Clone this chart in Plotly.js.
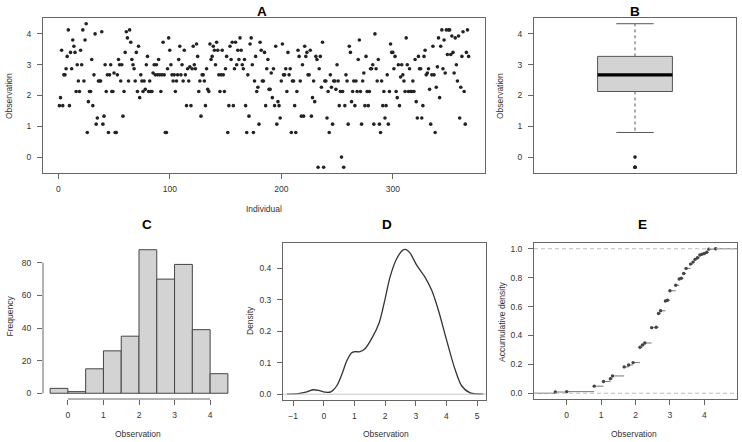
<!DOCTYPE html>
<html><head><meta charset="utf-8">
<script src="https://cdn.plot.ly/plotly-3.0.1.min.js"></script>
<style>html,body{margin:0;padding:0;background:#fff}#chart{width:742px;height:442px}</style>
</head><body><div id="chart"></div>
<script>
// Observation of each individual (panel A order)
const observations = [
1.67,1.93,3.47,1.67,2.67,2.67,2.87,3.27,4.13,1.67,
3.4,2.87,3.8,3.6,3.4,2.13,3.0,2.47,2.13,3.47,
3.0,4.13,2.47,3.8,4.33,0.8,1.8,2.13,2.13,3.17,
1.67,2.67,4.0,1.07,1.27,2.47,2.47,2.47,4.07,1.07,
1.33,3.0,2.13,2.67,0.8,2.67,3.0,2.13,2.13,2.73,
0.8,0.8,2.67,3.17,3.0,
2.47,3.0,1.33,2.13,3.4,4.07,3.87,2.47,4.13,3.73,
3.17,3.0,2.87,2.47,3.4,2.13,3.6,1.93,2.67,2.47,
2.13,2.47,2.2,3.0,3.27,2.13,2.47,2.13,2.13,2.73,
3.0,2.67,3.0,2.67,3.17,2.67,2.13,2.67,3.73,2.67,
0.8,0.8,2.87,3.87,3.47,3.0,2.67,2.47,2.67,2.13,
2.47,2.67,3.17,3.6,2.67,3.0,2.47,3.47,2.67,1.67,
2.87,2.47,2.93,1.67,2.87,3.6,
3.0,2.87,3.67,3.27,2.13,2.47,1.33,2.67,2.67,2.47,
1.67,2.87,2.2,2.13,3.67,3.17,3.27,3.6,3.47,3.0,
3.73,3.47,2.67,2.13,2.67,3.47,2.67,2.13,2.87,3.27,
0.8,1.67,3.6,3.17,3.73,1.67,2.87,3.73,3.0,3.47,
3.17,3.87,3.47,3.0,2.87,3.17,1.67,0.8,2.67,1.33,
3.67,3.87,3.0,0.8,2.47,3.27,2.13,2.27,1.07,3.73,
3.47,2.47,2.47,3.4,1.67,2.87,
3.17,2.2,2.2,2.73,1.93,2.87,1.67,3.6,1.07,1.8,
1.67,1.27,2.47,3.67,2.67,2.67,2.87,2.13,3.4,2.67,
2.87,0.8,2.47,2.47,1.67,0.8,2.13,3.47,3.27,2.47,
1.33,3.0,1.33,3.6,3.27,3.4,2.67,2.67,3.47,1.33,
1.93,2.47,1.8,3.27,3.17,-0.33,2.87,3.27,2.27,3.73,
-0.33,2.47,2.47,1.27,2.13,0.8,2.67,2.27,1.07,2.47,
2.47,2.2,3.0,2.47,
1.67,2.13,0.0,2.13,-0.33,1.67,2.67,2.47,1.07,3.6,
3.4,1.8,2.13,2.47,1.67,2.47,2.13,3.17,3.8,2.13,
1.07,2.47,2.73,1.67,3.27,2.13,1.67,2.13,2.87,2.87,
3.0,1.07,4.0,2.87,2.47,3.17,1.07,0.8,2.47,1.67,
2.13,1.27,1.67,2.67,1.07,2.13,3.67,3.4,3.4,2.87,
3.27,2.13,1.93,3.0,1.67,2.6,3.0,2.67,2.47,2.13,
3.87,3.0,2.13,2.87,2.13,
2.13,2.47,2.13,3.17,1.8,1.27,3.27,2.87,2.87,1.27,
1.67,3.27,3.47,2.67,2.73,2.87,2.2,1.07,2.67,3.6,
2.67,0.8,2.27,2.93,3.87,1.93,3.6,4.13,2.87,3.8,
2.73,4.13,3.33,4.13,4.13,3.33,3.93,3.4,2.73,3.87,
3.0,2.47,3.93,1.27,2.27,3.27,4.07,2.13,1.07,3.4,
4.13,3.27
];

// Histogram (panel C)
const histBreaks = [-0.5,0,0.5,1,1.5,2,2.5,3,3.5,4,4.5];
const histCounts = [3,1,15,26,35,88,70,79,39,12];

// Density curve (panel D)
const densityX = [-1.2,-0.83,-0.55,-0.34,-0.17,0.04,0.23,0.42,0.59,0.75,0.91,1.02,1.18,1.35,1.57,1.81,2.0,2.16,2.38,2.58,2.67,2.81,3.03,3.3,3.52,3.74,4.01,4.28,4.5,4.77,5.0,5.2];
const densityY = [0,0.002,0.0075,0.014,0.012,0.0064,0.0075,0.026,0.063,0.106,0.132,0.135,0.135,0.145,0.178,0.228,0.303,0.372,0.431,0.458,0.46,0.449,0.41,0.372,0.33,0.266,0.17,0.079,0.026,0.004,0.0005,0];

const titles = ['A','B','C','D','E'];

// ---- derived ----
const n = observations.length;
const individuals = observations.map((_, k) => k + 1);
const sorted = observations.slice().sort((a, b) => a - b);

function fivenum(s) {
  const m = s.length;
  const n4 = Math.floor((m + 3) / 2) / 2;
  const d = [1, n4, (m + 1) / 2, m + 1 - n4, m];
  return d.map(v => 0.5 * (s[Math.floor(v) - 1] + s[Math.ceil(v) - 1]));
}
const h = fivenum(sorted);
const iqr = h[3] - h[1];
const lo = h[1] - 1.5 * iqr, hi = h[3] + 1.5 * iqr;
const inside = sorted.filter(v => v >= lo && v <= hi);
const wLow = inside[0], wHigh = inside[inside.length - 1];
const outliers = sorted.filter(v => v < lo || v > hi);

const histMid = histCounts.map((_, k) => (histBreaks[k] + histBreaks[k + 1]) / 2);
const histWidth = histCounts.map((_, k) => histBreaks[k + 1] - histBreaks[k]);

const uniq = [...new Set(sorted)];
const ecdfY = uniq.map(u => sorted.filter(v => v <= u).length / n);
const eRange = [-0.95, 4.95];
const segX = [eRange[0], uniq[0], null], segY = [0, 0, null];
uniq.forEach((u, k) => {
  segX.push(u, k < uniq.length - 1 ? uniq[k + 1] : eRange[1], null);
  segY.push(ecdfY[k], ecdfY[k], null);
});

const frame = '#666';
const tickFont = {family: 'Liberation Sans, Arial, sans-serif', size: 8.5, color: '#333'};
function ax(extra) {
  return Object.assign({
    showgrid: false, zeroline: false, showline: true, mirror: true,
    linecolor: frame, linewidth: 1, ticks: 'outside', ticklen: 5, tickcolor: frame,
    tickfont: tickFont, fixedrange: true
  }, extra);
}

const traces = [
  {type: 'scatter', mode: 'markers', x: individuals, y: observations, xaxis: 'x', yaxis: 'y',
   marker: {size: 3.6, color: '#222'}, hoverinfo: 'skip'},
  // boxplot B
  {type: 'scatter', mode: 'lines', x: [0.8, 1.2, 1.2, 0.8, 0.8], y: [h[1], h[1], h[3], h[3], h[1]],
   fill: 'toself', fillcolor: '#d3d3d3', line: {color: '#555', width: 1}, xaxis: 'x2', yaxis: 'y2'},
  {type: 'scatter', mode: 'lines', x: [0.8, 1.2], y: [h[2], h[2]], line: {color: '#000', width: 3.2},
   xaxis: 'x2', yaxis: 'y2'},
  {type: 'scatter', mode: 'lines', x: [1, 1, null, 1, 1], y: [h[3], wHigh, null, h[1], wLow],
   line: {color: '#555', width: 1, dash: '3px,3px'}, xaxis: 'x2', yaxis: 'y2'},
  {type: 'scatter', mode: 'lines', x: [0.9, 1.1, null, 0.9, 1.1], y: [wHigh, wHigh, null, wLow, wLow],
   line: {color: '#555', width: 1}, xaxis: 'x2', yaxis: 'y2'},
  {type: 'scatter', mode: 'markers', x: outliers.map(() => 1), y: outliers,
   marker: {size: 3.6, color: '#222'}, xaxis: 'x2', yaxis: 'y2'},
  // histogram C
  {type: 'bar', x: histMid, y: histCounts, width: histWidth, xaxis: 'x3', yaxis: 'y3',
   marker: {color: '#d3d3d3', line: {color: '#444', width: 1}}},
  // density D
  {type: 'scatter', mode: 'lines', x: densityX, y: densityY, xaxis: 'x4', yaxis: 'y4',
   line: {color: '#333', width: 1.3, shape: 'spline', smoothing: 0.8}},
  // ecdf E
  {type: 'scatter', mode: 'lines', x: segX, y: segY, xaxis: 'x5', yaxis: 'y5',
   line: {color: '#777', width: 1}},
  {type: 'scatter', mode: 'markers', x: uniq, y: ecdfY, xaxis: 'x5', yaxis: 'y5',
   marker: {size: 3.4, color: '#444'}}
];

const W = 742, H = 442;
function ann(text, px, py, opts) {
  return Object.assign({text: text, x: px / W, y: 1 - py / H, xref: 'paper', yref: 'paper',
    showarrow: false, xanchor: 'center', yanchor: 'middle',
    font: {family: 'Liberation Sans, Arial, sans-serif', size: 8.5, color: '#333'}}, opts || {});
}
const titleFont = {family: 'Liberation Sans, Arial, sans-serif', size: 13.5, color: '#000', weight: 'bold'};
const ys = {ticklabelstandoff: 4};
const xs = {ticklabelstandoff: 3};

const layout = {
  width: W, height: H, margin: {l: 0, r: 0, t: 0, b: 0},
  paper_bgcolor: '#fff', plot_bgcolor: '#fff', showlegend: false, bargap: 0,
  font: {family: 'Liberation Sans, Arial, sans-serif', size: 8.5, color: '#333'},
  xaxis: ax(Object.assign({domain: [43 / W, 485 / W], range: [-13.7, 382.7], tickvals: [0, 100, 200, 300], anchor: 'y'}, xs)),
  yaxis: ax(Object.assign({domain: [1 - 173 / H, 1 - 18 / H], range: [-0.516, 4.516], tickvals: [0, 1, 2, 3, 4], anchor: 'x'}, ys)),
  xaxis2: ax({domain: [534 / W, 736 / W], range: [0.46, 1.54], ticks: '', showticklabels: false, anchor: 'y2'}),
  yaxis2: ax(Object.assign({domain: [1 - 173 / H, 1 - 18 / H], range: [-0.516, 4.516], tickvals: [0, 1, 2, 3, 4], anchor: 'x2'}, ys)),
  xaxis3: ax(Object.assign({domain: [43 / W, 235 / W], range: [-0.7, 4.7], tickvals: [0, 1, 2, 3, 4], showline: false, anchor: 'y3'}, xs)),
  yaxis3: ax(Object.assign({domain: [1 - 399 / H, 1 - 244 / H], range: [-3.52, 91.52], tickvals: [0, 20, 40, 60, 80], showline: false, anchor: 'x3'}, ys)),
  xaxis4: ax(Object.assign({domain: [283 / W, 486 / W], range: [-1.33, 5.29], tickvals: [-1, 0, 1, 2, 3, 4, 5], anchor: 'y4'}, xs)),
  yaxis4: ax(Object.assign({domain: [1 - 400 / H, 1 - 243 / H], range: [-0.0185, 0.4805], tickvals: [0, 0.1, 0.2, 0.3, 0.4], tickformat: '.1f', anchor: 'x4'}, ys)),
  xaxis5: ax(Object.assign({domain: [534 / W, 737 / W], range: eRange, tickvals: [0, 1, 2, 3, 4], anchor: 'y5'}, xs)),
  yaxis5: ax(Object.assign({domain: [1 - 399 / H, 1 - 243 / H], range: [-0.04, 1.04], tickvals: [0, 0.2, 0.4, 0.6, 0.8, 1.0], tickformat: '.1f', anchor: 'x5'}, ys)),
  shapes: [
    {type: 'line', xref: 'x3', yref: 'y3 domain', x0: 0, x1: 4, y0: 0, y1: 0, line: {color: frame, width: 1}},
    {type: 'line', xref: 'x3 domain', yref: 'y3', x0: 0, x1: 0, y0: 0, y1: 80, line: {color: frame, width: 1}},
    {type: 'line', xref: 'x4 domain', yref: 'y4', x0: 0, x1: 1, y0: 0, y1: 0, line: {color: '#c8c8c8', width: 1}},
    {type: 'line', xref: 'x5 domain', yref: 'y5', x0: 0, x1: 1, y0: 0, y1: 0, line: {color: '#bbb', width: 1, dash: '4px,3px'}},
    {type: 'line', xref: 'x5 domain', yref: 'y5', x0: 0, x1: 1, y0: 1, y1: 1, line: {color: '#bbb', width: 1, dash: '4px,3px'}}
  ],
  annotations: [
    ann(titles[0], 262, 11, {font: titleFont}),
    ann(titles[1], 635, 11, {font: titleFont}),
    ann(titles[2], 147, 224, {font: titleFont}),
    ann(titles[3], 387, 224, {font: titleFont}),
    ann(titles[4], 642, 224, {font: titleFont}),
    ann('Individual', 264, 209),
    ann('Observation', 9, 96, {textangle: -90}),
    ann('Observation', 500, 96, {textangle: -90}),
    ann('Frequency', 9.5, 316, {textangle: -90}),
    ann('Observation', 138, 434),
    ann('Density', 250, 321, {textangle: -90}),
    ann('Observation', 386, 434),
    ann('Accumulative density', 502, 322, {textangle: -90}),
    ann('Observation', 634, 434)
  ]
};

Plotly.newPlot('chart', traces, layout, {staticPlot: true, displayModeBar: false});
</script>
</body></html>
